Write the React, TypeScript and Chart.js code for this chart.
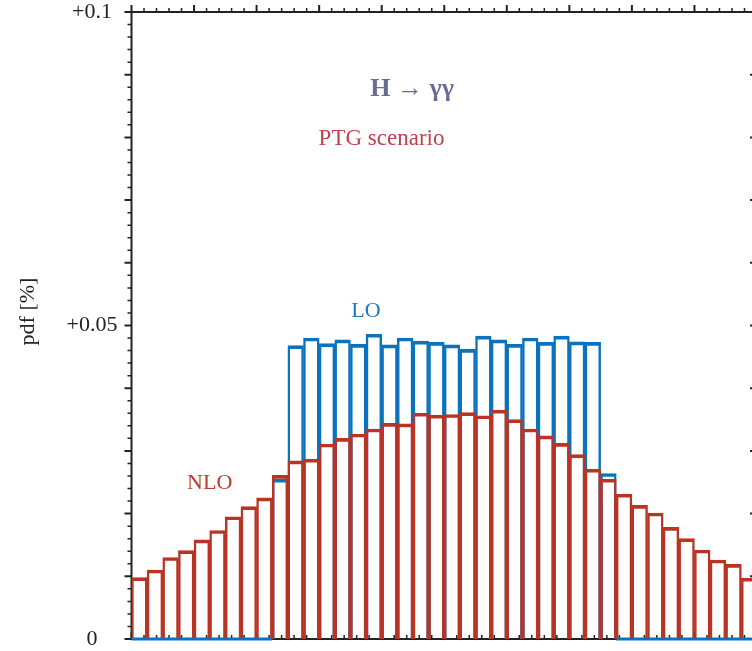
import { useEffect, useRef } from "react";
import { Chart, registerables } from "chart.js";

Chart.register(...registerables);

// Histogram bins (40 equal bins)
const bins = [
  "1", "2", "3", "4", "5", "6", "7", "8", "9", "10",
  "11", "12", "13", "14", "15", "16", "17", "18", "19", "20",
  "21", "22", "23", "24", "25", "26", "27", "28", "29", "30",
  "31", "32", "33", "34", "35", "36", "37", "38", "39", "40",
];

// NLO pdf per bin
const nlo = [
  0.0098, 0.0110, 0.0130, 0.0141, 0.0158, 0.0173, 0.0195, 0.0211, 0.0225, 0.0261,
  0.0284, 0.0287, 0.0311, 0.0320, 0.0327, 0.0335, 0.0344, 0.0343, 0.0360, 0.0357,
  0.0358, 0.0361, 0.0356, 0.0365, 0.0350, 0.0335, 0.0324, 0.0312, 0.0294, 0.0271,
  0.0255, 0.0231, 0.0213, 0.0201, 0.0178, 0.0160, 0.0142, 0.0126, 0.0119, 0.0097,
];

// LO pdf per bin
const lo = [
  0, 0, 0, 0, 0, 0, 0, 0, 0, 0.0255,
  0.0468, 0.0480, 0.0471, 0.0477, 0.0470, 0.0486, 0.0469, 0.0480, 0.0475, 0.0473,
  0.0469, 0.0462, 0.0483, 0.0477, 0.0470, 0.0480, 0.0473, 0.0483, 0.0474, 0.0473,
  0.0264, 0, 0, 0, 0, 0, 0, 0, 0, 0,
];

const yTickValues = [0, 0.05, 0.1];
const yTickLabels = ["0", "+0.05", "+0.1"];

const BLUE = "#0b72bd";
const RED = "#bb3324";
const AXIS = "#222222";
const SERIF = "'Liberation Serif', 'DejaVu Serif', serif";

const framePlugin = {
  id: "frame",
  beforeDatasetsDraw(chart: any) {
    const { ctx, chartArea: a, scales } = chart;
    const y = scales.y;
    const x = scales.x;
    ctx.save();
    ctx.strokeStyle = AXIS;
    ctx.lineWidth = 2;
    ctx.beginPath();
    ctx.rect(a.left, a.top, a.right - a.left, a.bottom - a.top);
    ctx.stroke();

    // y ticks: minor every 0.002, major every 0.01
    for (let i = 0; i <= 50; i++) {
      const v = i * 0.002;
      const py = y.getPixelForValue(v);
      const major = i % 5 === 0;
      const len = major ? 7 : 4;
      ctx.lineWidth = major ? 2 : 1.5;
      ctx.beginPath();
      ctx.moveTo(a.left, py);
      ctx.lineTo(a.left - len, py);
      ctx.moveTo(a.right, py);
      ctx.lineTo(a.right - len, py);
      ctx.stroke();
    }
    // x ticks: minor every 0.02, major every 0.1 (fraction of axis)
    for (let i = 0; i <= 50; i++) {
      const v = i * 0.02;
      const px = x.getPixelForDecimal(v);
      const major = i % 5 === 0;
      const len = major ? 7 : 4;
      ctx.lineWidth = major ? 2 : 1.5;
      ctx.beginPath();
      ctx.moveTo(px, a.top);
      ctx.lineTo(px, a.top - len);
      ctx.moveTo(px, a.bottom);
      ctx.lineTo(px, a.bottom - len);
      ctx.stroke();
    }

    // y tick labels
    ctx.fillStyle = "#222";
    ctx.font = `22px ${SERIF}`;
    ctx.textAlign = "center";
    ctx.textBaseline = "middle";
    yTickValues.forEach((v, i) => {
      ctx.fillText(yTickLabels[i], 92, y.getPixelForValue(v));
    });

    // y axis title
    ctx.save();
    ctx.translate(28, (a.top + a.bottom) / 2 - 14);
    ctx.rotate(-Math.PI / 2);
    ctx.fillText("pdf [%]", 0, 0);
    ctx.restore();
    ctx.restore();
  },
  afterDatasetsDraw(chart: any) {
    const { ctx, scales } = chart;
    const y = scales.y;
    const x = scales.x;
    const meta = chart.getDatasetMeta(1);
    const y0 = y.getPixelForValue(0);
    ctx.save();
    ctx.strokeStyle = BLUE;
    ctx.lineWidth = 3;
    ctx.beginPath();
    lo.forEach((v, i) => {
      if (v === 0) {
        const bar = meta.data[i];
        ctx.moveTo(bar.x - bar.width / 2, y0);
        ctx.lineTo(bar.x + bar.width / 2, y0);
      }
    });
    ctx.stroke();

    const put = (text: string, xv: number, yv: number, font: string, color: string) => {
      ctx.font = font;
      ctx.fillStyle = color;
      ctx.textAlign = "center";
      ctx.textBaseline = "middle";
      ctx.fillText(text, x.getPixelForDecimal(xv), y.getPixelForValue(yv));
    };
    put("H \u2192 \u03b3\u03b3", 0.4485, 0.0877, `bold 26px ${SERIF}`, "#6a6a98");
    put("PTG scenario", 0.3997, 0.0797, `23px ${SERIF}`, "#c0424e");
    put("LO", 0.3749, 0.0523, `22px ${SERIF}`, "#1a78c2");
    put("NLO", 0.125, 0.0249, `22px ${SERIF}`, "#bf3a2e");
    ctx.restore();
  },
};

export default function App() {
  const ref = useRef<HTMLCanvasElement | null>(null);

  useEffect(() => {
    if (!ref.current) return;
    const common = {
      grouped: false,
      backgroundColor: "rgba(0,0,0,0)",
      borderWidth: { top: 3, left: 1.8, right: 1.8, bottom: 0 },
      borderSkipped: false,
      categoryPercentage: 1,
      barPercentage: 1,
    };
    const chart = new Chart(ref.current, {
      type: "bar",
      data: {
        labels: bins,
        datasets: [
          { ...common, label: "NLO", data: nlo, borderColor: RED, order: 1 } as any,
          { ...common, label: "LO", data: lo, borderColor: BLUE, order: 2 } as any,
        ],
      },
      options: {
        responsive: false,
        animation: false,
        devicePixelRatio: 1,
        layout: { padding: { left: 131.5, top: 12, right: 3, bottom: 12 } },
        plugins: { legend: { display: false }, tooltip: { enabled: false } },
        scales: {
          x: { display: false },
          y: { display: false, min: 0, max: 0.1 },
        },
      } as any,
      plugins: [framePlugin],
    });
    return () => chart.destroy();
  }, []);

  return (
    <div
      style={{
        position: "absolute",
        left: 0,
        top: 0,
        width: 752,
        height: 651,
        overflow: "hidden",
        background: "#fff",
      }}
    >
      <canvas ref={ref} width={760} height={651} style={{ width: 760, height: 651, display: "block" }} />
    </div>
  );
}
